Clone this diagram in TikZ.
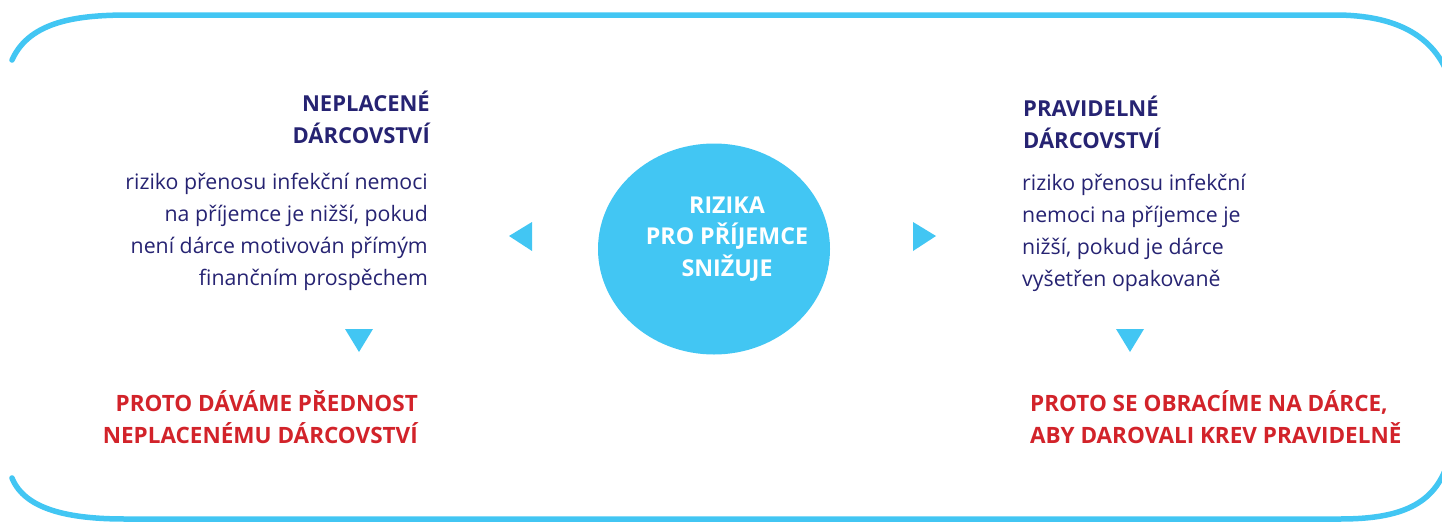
\documentclass[tikz,border=0pt]{standalone}
\usepackage{fontspec}
\setmainfont{Open Sans}
\usetikzlibrary{shapes.geometric}
\definecolor{sky}{HTML}{42C6F3}
\definecolor{navy}{HTML}{262372}
\definecolor{rred}{HTML}{D2232A}
\tikzset{
  bracket/.style={draw=sky, line width=5.5pt, line cap=round},
  tri/.style={fill=sky, draw=none},
  head/.style={text=navy, font=\fontsize{22}{32}\selectfont\bfseries, inner sep=0pt},
  body/.style={text=navy, font=\fontsize{21.3}{32}\selectfont, inner sep=0pt},
  concl/.style={text=rred, font=\fontsize{22.5}{32}\selectfont\bfseries, inner sep=0pt},
  circ/.style={fill=sky, draw=none, ellipse},
}
\begin{document}
\begin{tikzpicture}[x=1pt, y=-1pt]
\useasboundingbox (0,0) rectangle (1442,522);
\begin{scope}
\clip (0,0) rectangle (1442,522);
% top bracket
\draw[bracket] (12,60) .. controls (30,20) and (80,15) .. (130,15) -- (1335,15)
  .. controls (1395,15) and (1435,35) .. (1450,80);
% bottom bracket
\draw[bracket] (12,478) .. controls (25,510) and (70,519) .. (125,519) -- (1340,519)
  .. controls (1400,519) and (1435,505) .. (1448,462);
\end{scope}
% central ellipse
\node[circ, minimum width=232pt, minimum height=211pt] (c) at (714,249) {};
\node[text=white, font=\fontsize{23.2}{31.5}\selectfont\bfseries, align=center, anchor=base, inner sep=0pt] (ct) at (727,276) {RIZIKA\\PRO PŘÍJEMCE\\SNIŽUJE};
% left block
\node[head, align=right, anchor=base east] (lh) at (430,143) {NEPLACENÉ\\DÁRCOVSTVÍ};
\node[body, align=right, anchor=base east] (lb) at (428,285) {riziko přenosu infekční nemoci\\na příjemce je nižší, pokud\\není dárce motivován přímým\\finančním prospěchem};
\node[concl, align=right, anchor=base east] (lc) at (418,443) {PROTO DÁVÁME PŘEDNOST\\NEPLACENÉMU DÁRCOVSTVÍ};
% right block
\node[head, align=left, anchor=base west] (rh) at (1023,148) {PRAVIDELNÉ\\DÁRCOVSTVÍ};
\node[body, align=left, anchor=base west] (rb) at (1022,286) {riziko přenosu infekční\\nemoci na příjemce je\\nižší, pokud je dárce\\vyšetřen opakovaně};
\node[concl, align=left, anchor=base west] (rc) at (1030,443) {PROTO SE OBRACÍME NA DÁRCE,\\ABY DAROVALI KREV PRAVIDELNĚ};
% triangles
\fill[tri] (509,236) -- (532,222) -- (532,251) -- cycle;
\fill[tri] (936,236) -- (913,222) -- (913,251) -- cycle;
\fill[tri] (345,329) -- (373,329) -- (359,352) -- cycle;
\fill[tri] (1116,329) -- (1144,329) -- (1130,352) -- cycle;
\end{tikzpicture}
\end{document}
